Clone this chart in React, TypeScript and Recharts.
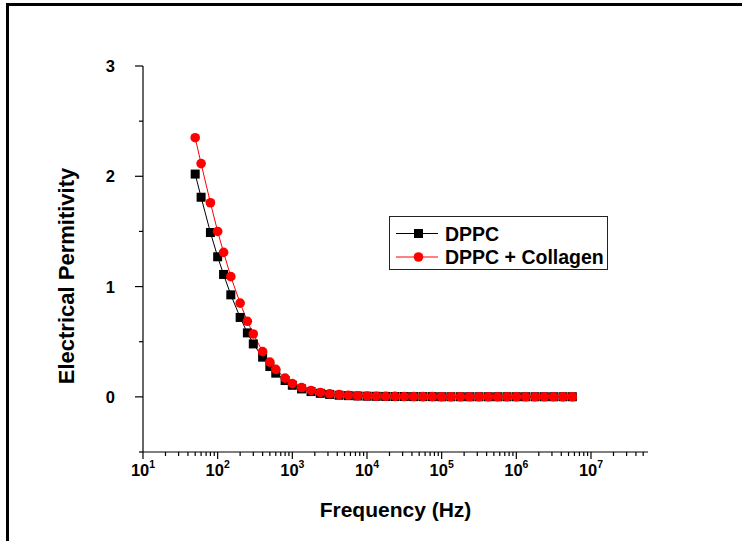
import React from 'react';
import { LineChart, Line, XAxis, YAxis, Label } from 'recharts';

// sweep frequencies (Hz)
const freqHz = [
  50, 60, 80, 100, 120, 150, 200, 250, 300, 400, 500, 600, 800,
  1000, 1330, 1780, 2370, 3160, 4220, 5620, 7500,
  1e4, 1.33e4, 1.78e4, 2.37e4, 3.16e4, 4.22e4, 5.62e4, 7.5e4,
  1e5, 1.33e5, 1.78e5, 2.37e5, 3.16e5, 4.22e5, 5.62e5, 7.5e5,
  1e6, 1.33e6, 1.78e6, 2.37e6, 3.16e6, 4.22e6, 5.62e6,
];

const dppc = [
  2.02, 1.81, 1.49, 1.27, 1.11, 0.925, 0.72, 0.58, 0.48, 0.36, 0.275, 0.215, 0.148,
  0.105, 0.072, 0.048, 0.032, 0.022, 0.015, 0.011, 0.008,
  0.006, 0.005, 0.004, 0.003, 0.003, 0.002, 0.002, 0.002,
  0.001, 0.001, 0.001, 0.001, 0.001, 0.001, 0.001, 0.001,
  0.001, 0.001, 0.001, 0.001, 0.001, 0.001, 0.001,
];

const dppcCollagen = [
  2.35, 2.115, 1.76, 1.5, 1.31, 1.09, 0.85, 0.685, 0.57, 0.41, 0.315, 0.25, 0.17,
  0.12, 0.085, 0.058, 0.04, 0.028, 0.02, 0.014, 0.01,
  0.008, 0.006, 0.005, 0.004, 0.003, 0.003, 0.002, 0.002,
  0.001, 0.001, 0.001, 0.001, 0.001, 0.001, 0.001, 0.001,
  0.001, 0.001, 0.001, 0.001, 0.001, 0.001, 0.001,
];

const seriesNames = ['DPPC', 'DPPC + Collagen'];
const seriesColors = ['#000000', '#ff0000'];

const yTicks = [-0.5, 0, 0.5, 1, 1.5, 2, 2.5, 3];

// decade majors plus 2..9 minors, 10^1 .. 5x10^7
const xTicks: number[] = [];
for (let k = 1; k <= 7; k++) {
  for (let m = 1; m <= 9; m++) {
    const v = m * Math.pow(10, k);
    if (v <= 5e7) xTicks.push(v);
  }
}

const data = freqHz.map((f, i) => ({ f, dppc: dppc[i], collagen: dppcCollagen[i] }));

const FONT = '"Liberation Sans", Arial, sans-serif';

const XTick = (props: any) => {
  const { x, y, payload } = props;
  const v = payload.value;
  const exp = Math.log10(v);
  const major = Math.abs(exp - Math.round(exp)) < 1e-6;
  return (
    <g>
      <line x1={x} y1={y} x2={x} y2={y + (major ? 7 : 4)} stroke="#000" strokeWidth={1.2} />
      {major && (
        <text x={x} y={y + 24} textAnchor="middle" fontFamily={FONT} fontWeight="bold" fontSize={16.5} fill="#000">
          <tspan>10</tspan>
          <tspan dy={-8} fontSize={10.5}>{Math.round(exp)}</tspan>
        </text>
      )}
    </g>
  );
};

const YTick = (props: any) => {
  const { x, y, payload } = props;
  const v = payload.value;
  const major = Number.isInteger(v);
  return (
    <g>
      <line x1={x} y1={y} x2={x - (major ? 8 : 4)} y2={y} stroke="#000" strokeWidth={1.2} />
      {major && (
        <text x={x - 28} y={y} dy="0.36em" textAnchor="end" fontFamily={FONT} fontWeight="bold" fontSize={16.5} fill="#000">
          {v}
        </text>
      )}
    </g>
  );
};

const SquareDot = (props: any) => {
  const { cx, cy } = props;
  if (cx == null || cy == null) return null;
  return <rect x={cx - 4.5} y={cy - 4.5} width={9} height={9} fill="#000" />;
};

const LegendBox = () => (
  <svg width={220} height={55} style={{ position: 'absolute', left: 389, top: 216, display: 'block' }}>
    <rect x={0.5} y={0.5} width={218} height={53} fill="#fff" stroke="#222" strokeWidth={1} />
    {seriesNames.map((name, i) => {
      const cy = 17.5 + i * 23.5;
      const color = seriesColors[i];
      return (
        <g key={name}>
          <line x1={7} y1={cy} x2={49} y2={cy} stroke={color} strokeWidth={1} />
          {i === 0 ? (
            <rect x={29.5 - 4.5} y={cy - 4.5} width={9} height={9} fill={color} />
          ) : (
            <circle cx={29.5} cy={cy} r={4.8} fill={color} />
          )}
          <text x={56} y={cy} dy="0.36em" fontFamily={FONT} fontWeight="bold" fontSize={19.5} fill="#000">
            {name}
          </text>
        </g>
      );
    })}
  </svg>
);

export default function App() {
  return (
    <div style={{ position: 'absolute', left: 0, top: 0, width: 742, height: 541, background: '#fff', overflow: 'hidden' }}>
      <div
        style={{
          position: 'absolute',
          left: 6,
          top: 3,
          right: 0,
          bottom: 0,
          borderLeft: '3px solid #000',
          borderTop: '3px solid #000',
        }}
      />
      <LineChart width={742} height={541} data={data} margin={{ top: 66, right: 94, left: 0, bottom: 0 }}>
        <XAxis
          dataKey="f"
          type="number"
          scale="log"
          domain={[10, 5.8e7]}
          ticks={xTicks}
          interval={0}
          tick={<XTick />}
          tickLine={false}
          tickSize={0}
          tickMargin={0}
          height={89}
          axisLine={{ stroke: '#000', strokeWidth: 1.2 }}
        >
          <Label
            content={(p: any) => {
              const vb = p.viewBox;
              return (
                <text x={vb.x + vb.width / 2} y={vb.y + 65} textAnchor="middle" fontFamily={FONT} fontWeight="bold" fontSize={21} fill="#000">
                  Frequency (Hz)
                </text>
              );
            }}
          />
        </XAxis>
        <YAxis
          type="number"
          domain={[-0.5, 3]}
          ticks={yTicks}
          interval={0}
          tick={<YTick />}
          tickLine={false}
          tickSize={0}
          tickMargin={0}
          width={143}
          axisLine={{ stroke: '#000', strokeWidth: 1.2 }}
        >
          <Label
            content={(p: any) => {
              const vb = p.viewBox;
              const cx = 74;
              const cy = vb.y + 210;
              return (
                <text x={cx} y={cy} transform={`rotate(-90, ${cx}, ${cy})`} textAnchor="middle" fontFamily={FONT} fontWeight="bold" fontSize={22} fill="#000">
                  Electrical Permitivity
                </text>
              );
            }}
          />
        </YAxis>
        <Line
          dataKey="dppc"
          name={seriesNames[0]}
          stroke={seriesColors[0]}
          strokeWidth={1}
          dot={<SquareDot />}
          isAnimationActive={false}
        />
        <Line
          dataKey="collagen"
          name={seriesNames[1]}
          stroke={seriesColors[1]}
          strokeWidth={1}
          dot={{ r: 4.8, fill: seriesColors[1], stroke: seriesColors[1], strokeWidth: 0 }}
          isAnimationActive={false}
        />
      </LineChart>
      <LegendBox />
    </div>
  );
}
